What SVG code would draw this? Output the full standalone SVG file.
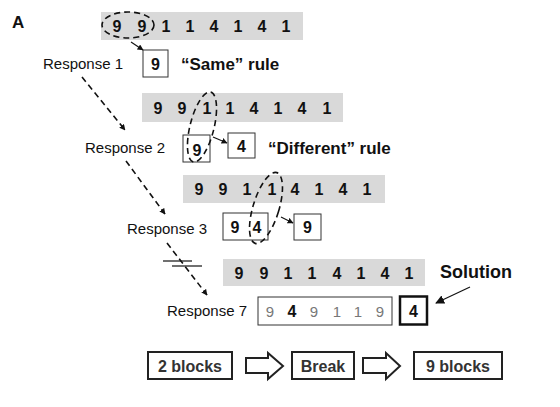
<svg xmlns="http://www.w3.org/2000/svg" width="560" height="407" viewBox="0 0 560 407">
<defs>
<marker id="ah" viewBox="0 0 10 10" refX="9" refY="5" markerWidth="6" markerHeight="6" orient="auto" markerUnits="userSpaceOnUse">
<path d="M0,0 L10,5 L0,10 z" fill="#111"/>
</marker>
<marker id="ahb" viewBox="0 0 10 10" refX="9" refY="5" markerWidth="9" markerHeight="9" orient="auto" markerUnits="userSpaceOnUse">
<path d="M0,0 L10,5 L0,10 z" fill="#111"/>
</marker>
</defs>
<style>
.bar{fill:#d9d9d9}
.dg{font-family:"Liberation Sans",Arial,sans-serif;font-weight:bold;font-size:16px;fill:#111;text-anchor:middle;dominant-baseline:central}
.bx{fill:#fff;stroke:#333;stroke-width:1}
.lbl{font-family:"Liberation Sans",Arial,sans-serif;font-size:15px;fill:#111;dominant-baseline:central}
.rule{font-family:"Liberation Sans",Arial,sans-serif;font-weight:bold;font-size:17px;fill:#111;dominant-baseline:central}
.dash{fill:none;stroke:#111;stroke-width:1.6;stroke-dasharray:6 4}
.conn{fill:none;stroke:#111;stroke-width:1.2}
.blk{fill:#fff;stroke:#222;stroke-width:2}
.bt{font-family:"Liberation Sans",Arial,sans-serif;font-weight:bold;font-size:16px;fill:#333;text-anchor:middle;dominant-baseline:central}
.gd{font-family:"Liberation Sans",Arial,sans-serif;font-size:15px;fill:#777;text-anchor:middle;dominant-baseline:central}
</style>
<rect width="560" height="407" fill="#fff"/>
<text x="12" y="22" font-family="Liberation Sans,Arial,sans-serif" font-weight="bold" font-size="17" fill="#111" dominant-baseline="central">A</text>

<g id="row1">
<rect class="bar" x="101" y="12" width="202" height="28"/>
<text class="dg" y="26"><tspan x="117">9</tspan><tspan x="142">9</tspan><tspan x="166">1</tspan><tspan x="190">1</tspan><tspan x="214">4</tspan><tspan x="238">1</tspan><tspan x="262">4</tspan><tspan x="286">1</tspan></text>
<ellipse class="dash" cx="128" cy="25" rx="26" ry="13"/>
</g>
<g id="resp1">
<text class="lbl" x="43" y="63">Response 1</text>
<rect class="bx" x="143" y="50" width="25" height="27"/>
<text class="dg" x="155.5" y="64" font-size="14">9</text>
<text class="rule" x="181" y="64">“Same” rule</text>
</g>

<g id="row2">
<rect class="bar" x="142" y="93" width="201" height="29"/>
<text class="dg" y="108"><tspan x="158">9</tspan><tspan x="182">9</tspan><tspan x="207">1</tspan><tspan x="230">1</tspan><tspan x="254">4</tspan><tspan x="278">1</tspan><tspan x="302">4</tspan><tspan x="327">1</tspan></text>
</g>
<g id="resp2">
<text class="lbl" x="85" y="147">Response 2</text>
<rect class="bx" x="183" y="135" width="27" height="27"/>
<text class="dg" x="197" y="150" font-size="14">9</text>
<rect class="bx" x="228" y="133" width="27" height="25"/>
<text class="dg" x="241.5" y="146" font-size="14">4</text>
<text class="rule" x="268" y="148">“Different” rule</text>
<ellipse class="dash" cx="202" cy="127" rx="12" ry="36" transform="rotate(14 202 127)"/>
</g>

<g id="row3">
<rect class="bar" x="183" y="175" width="202" height="28"/>
<text class="dg" y="189"><tspan x="199">9</tspan><tspan x="223">9</tspan><tspan x="247">1</tspan><tspan x="272">1</tspan><tspan x="295">4</tspan><tspan x="319">1</tspan><tspan x="343">4</tspan><tspan x="367">1</tspan></text>
</g>
<g id="resp3">
<text class="lbl" x="127" y="228">Response 3</text>
<rect class="bx" x="223" y="213" width="45" height="27"/>
<text class="dg" y="227" font-size="14"><tspan x="235">9</tspan><tspan x="257">4</tspan></text>
<rect class="bx" x="294" y="214" width="27" height="26"/>
<text class="dg" x="307.5" y="227" font-size="14">9</text>
<ellipse class="dash" cx="266" cy="208" rx="13" ry="37" transform="rotate(17 266 208)"/>
</g>

<g id="row4">
<rect class="bar" x="223" y="259" width="202" height="27"/>
<text class="dg" y="273"><tspan x="239">9</tspan><tspan x="264">9</tspan><tspan x="288">1</tspan><tspan x="312">1</tspan><tspan x="337">4</tspan><tspan x="361">1</tspan><tspan x="385">4</tspan><tspan x="409">1</tspan></text>
<text x="440" y="272" font-family="Liberation Sans,Arial,sans-serif" font-weight="bold" font-size="18" fill="#111" dominant-baseline="central">Solution</text>
</g>
<g id="resp7">
<text class="lbl" x="167" y="310">Response 7</text>
<rect class="bx" x="258" y="297" width="134" height="28"/>
<text class="gd" y="311"><tspan x="270">9</tspan><tspan x="292" font-weight="bold" fill="#111" font-size="16">4</tspan><tspan x="314">9</tspan><tspan x="337">1</tspan><tspan x="358">1</tspan><tspan x="380">9</tspan></text>
<rect x="400" y="296.5" width="27" height="28" fill="#fff" stroke="#111" stroke-width="2.5"/>
<text class="dg" x="413.5" y="311" font-size="15">4</text>
</g>

<g id="connectors">
<line class="conn" x1="131" y1="42" x2="143" y2="50" stroke-width="1.6" marker-end="url(#ah)"/>
<line class="conn" x1="213" y1="137" x2="227" y2="143" stroke-width="1.4" marker-end="url(#ah)"/>
<line class="conn" x1="281" y1="217" x2="293" y2="223" stroke-width="1.4" marker-end="url(#ah)"/>
<line class="dash" x1="82" y1="77" x2="125" y2="130" stroke-width="1.2" marker-end="url(#ah)"/>
<line class="dash" x1="126" y1="161" x2="165" y2="214" stroke-width="1.2" marker-end="url(#ah)"/>
<line class="dash" x1="167" y1="243" x2="207" y2="295" stroke-width="1.2" marker-end="url(#ah)"/>
<line class="conn" x1="163" y1="261" x2="192" y2="261" stroke-width="1.6"/>
<line class="conn" x1="172" y1="266" x2="202" y2="266" stroke-width="1.6"/>
<line class="conn" x1="470" y1="287" x2="436" y2="303" stroke-width="2" marker-end="url(#ahb)"/>
</g>

<g id="blocks2">
<rect class="blk" x="148" y="352" width="84" height="27"/>
<text class="bt" x="190" y="366">2 blocks</text>
</g>
<g id="arrow1">
<polygon class="blk" points="246,358 268,358 268,353 283,366 268,379 268,373 246,373"/>
</g>
<g id="break">
<rect class="blk" x="292" y="352" width="62" height="27"/>
<text class="bt" x="323" y="366">Break</text>
</g>
<g id="arrow2">
<polygon class="blk" points="363,358 386,358 386,353 400,366 386,379 386,373 363,373"/>
</g>
<g id="blocks9">
<rect class="blk" x="414" y="352" width="88" height="27"/>
<text class="bt" x="458" y="366">9 blocks</text>
</g>
</svg>
